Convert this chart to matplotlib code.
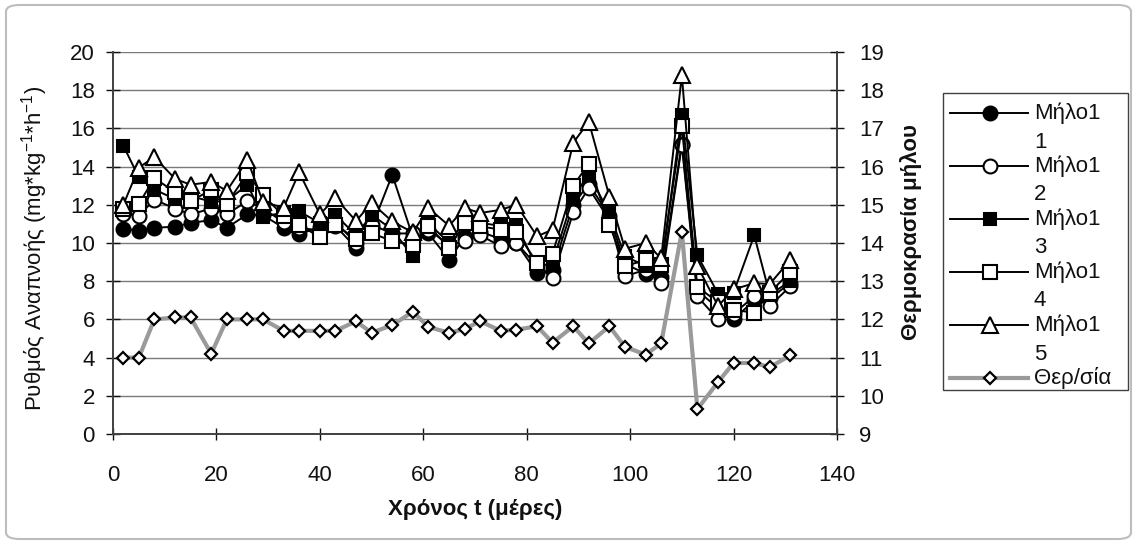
import matplotlib
matplotlib.use("Agg")
import matplotlib.pyplot as plt
from matplotlib.lines import Line2D
from matplotlib.patches import FancyBboxPatch, Rectangle

# ---- data -------------------------------------------------------------
days = [2, 5, 8, 12, 15, 19, 22, 26, 29, 33, 36, 40, 43, 47, 50, 54, 58, 61, 65,
        68, 71, 75, 78, 82, 85, 89, 92, 96, 99, 103, 106, 110, 113, 117, 120,
        124, 127, 131]

apple11 = [10.75, 10.65, 10.8, 10.85, 11.05, 11.2, 10.8, 11.5, 11.45, 10.8,
           10.45, 10.85, 10.9, 9.75, 10.8, 13.57, 10.3, 10.5, 9.13, 10.3, 10.6,
           10.2, 10.0, 8.43, 8.6, 12.0, 13.1, 11.4, 8.9, 8.4, 8.2, 15.2, 7.5,
           6.6, 6.0, 7.0, 7.1, 7.9]
apple12 = [11.5, 11.43, 12.27, 11.8, 11.5, 11.8, 11.5, 12.2, 11.8, 11.1,
           10.8, 10.65, 11.1, 10.0, 10.96, 10.5, 10.5, 10.7, 9.9, 10.09, 10.4,
           9.83, 10.0, 8.8, 8.17, 11.6, 12.87, 11.2, 8.26, 8.6, 7.9, 15.13, 7.2,
           6.0, 6.3, 7.2, 6.7, 7.74]
apple13 = [15.1, 13.43, 12.8, 12.3, 12.45, 12.17, 12.2, 13.05, 11.37, 11.6,
           11.65, 11.05, 11.48, 10.4, 11.48, 10.7, 9.3, 11.04, 10.0, 11.2, 11.05,
           10.9, 10.96, 8.7, 9.0, 12.4, 13.57, 11.57, 9.3, 8.8, 8.6, 16.7, 9.35,
           7.35, 7.4, 10.4, 7.3, 8.0]
apple14 = [11.8, 12.05, 13.4, 12.66, 12.2, 12.77, 12.05, 13.65, 12.5, 11.42,
           10.96, 10.3, 10.96, 10.2, 10.52, 10.1, 9.9, 10.9, 9.74, 11.04, 10.87,
           10.7, 10.6, 8.96, 9.45, 13.0, 14.15, 10.96, 8.8, 9.1, 8.87, 16.1, 7.7,
           6.9, 6.5, 6.35, 7.4, 8.5]
apple15 = [12.0, 13.95, 14.5, 13.36, 13.05, 13.2, 12.73, 14.35, 12.15, 11.85,
           13.7, 11.5, 12.35, 11.15, 12.1, 11.13, 10.55, 11.83, 10.9, 11.83, 11.57,
           11.74, 12.0, 10.35, 10.7, 15.25, 16.35, 12.43, 9.7, 10.0, 9.2, 18.78,
           8.8, 6.7, 7.57, 7.9, 7.85, 9.13]
temperature = [11.0, 11.0, 12.0, 12.05, 12.05, 11.1, 12.0, 12.0, 12.0, 11.7,
               11.7, 11.7, 11.7, 11.95, 11.65, 11.85, 12.2, 11.8, 11.65, 11.75,
               11.95, 11.7, 11.73, 11.82, 11.39, 11.82, 11.37, 11.82, 11.28, 11.08,
               11.37, 14.3, 9.65, 10.36, 10.86, 10.86, 10.75, 11.06]

series_names = ["Μήλο11", "Μήλο12", "Μήλο13", "Μήλο14", "Μήλο15"]
temp_name = "Θερ/σία"

x_ticks = [0, 20, 40, 60, 80, 100, 120, 140]
left_ticks = [0, 2, 4, 6, 8, 10, 12, 14, 16, 18, 20]
right_ticks = [9, 10, 11, 12, 13, 14, 15, 16, 17, 18, 19]

# ---- styling ----------------------------------------------------------
plt.rcParams['font.family'] = ['Liberation Sans', 'DejaVu Sans']
plt.rcParams['mathtext.fontset'] = 'custom'
plt.rcParams['mathtext.rm'] = 'Liberation Sans'

W, H = 1137, 544
FS = 16
TXT = '#111111'
fig = plt.figure(figsize=(W / 100, H / 100), dpi=100)


def fx(px):
    return px / W


def fy(py):
    return 1 - py / H


# outer chart frame with rounded corners
fig.add_artist(FancyBboxPatch((fx(6), fy(539)), fx(1131) - fx(6), fy(5) - fy(539),
                              boxstyle="round,pad=0,rounding_size=0.012",
                              transform=fig.transFigure, fill=False,
                              edgecolor="#bdbdbd", lw=1.5))

L, R, T, B = 113, 837, 52, 434
ax = fig.add_axes([fx(L), fy(B), fx(R) - fx(L), fy(T) - fy(B)])
ax2 = ax.twinx()

styles = [
    dict(marker='o', mfc='black', mec='black', ms=10, mew=1.5),
    dict(marker='o', mfc='white', mec='black', ms=10, mew=1.5),
    dict(marker='s', mfc='black', mec='black', ms=9, mew=1.5),
    dict(marker='s', mfc='white', mec='black', ms=10, mew=1.5),
    dict(marker='^', mfc='white', mec='black', ms=11, mew=1.5),
]
temp_style = dict(marker='D', mfc='white', mec='black', ms=6, mew=1.6)

for vals, st in zip([apple11, apple12, apple13, apple14, apple15], styles):
    ax.plot(days, vals, color='black', lw=1.4, **st, zorder=3)

ax2.plot(days, temperature, color='#9a9a9a', lw=3, **temp_style, zorder=3)

ax.set_xlim(0, 140)
ax.set_ylim(0, 20)
ax2.set_ylim(9, 19)
ax.set_xticks(x_ticks)
ax.set_yticks(left_ticks)
ax2.set_yticks(right_ticks)

ax.yaxis.grid(True, color='#7a7a7a', lw=1.0)
ax.set_axisbelow(True)

for a in (ax, ax2):
    a.spines['top'].set_visible(False)
    for s in ('left', 'right', 'bottom'):
        a.spines[s].set_color('#404040')
        a.spines[s].set_linewidth(1.2)

ax.tick_params(axis='y', direction='inout', length=10, width=1, pad=8,
               labelsize=FS, colors=TXT)
ax.tick_params(axis='x', direction='inout', length=8, width=1, pad=18,
               labelsize=FS, colors=TXT)
ax2.tick_params(axis='y', direction='inout', length=10, width=1, pad=11,
                labelsize=FS, colors=TXT)

fig.text(fx(35), fy(248),
         r'Ρυθμός Αναπνοής (mg*kg$^{\mathregular{-1}}$*h$^{\mathregular{-1}}$)',
         rotation=90, ha='center', va='center', fontsize=FS, color=TXT)
fig.text(fx(911), fy(232), 'Θερμοκρασία μήλου', rotation=90, ha='center',
         va='center', fontsize=FS, fontweight='bold', color=TXT)
fig.text(fx(475), fy(510), 'Χρόνος t (μέρες)', ha='center', va='center',
         fontsize=FS, fontweight='bold', color=TXT)

# ---- legend -----------------------------------------------------------
fig.add_artist(Rectangle((fx(943), fy(390)), fx(1128) - fx(943), fy(93) - fy(390),
                         transform=fig.transFigure, fill=False,
                         edgecolor='#404040', lw=1.0))

entry_y = [113, 166, 219, 272, 325, 378]
for i, (name, st) in enumerate(zip(series_names, styles)):
    y = entry_y[i]
    fig.add_artist(Line2D([fx(950), fx(1028)], [fy(y), fy(y)],
                          transform=fig.transFigure, color='black', lw=1.4))
    fig.add_artist(Line2D([fx(990)], [fy(y)], transform=fig.transFigure,
                          linestyle='none', **st))
    fig.text(fx(1034), fy(y), name[:-1], ha='left', va='center', fontsize=FS,
             color=TXT)
    fig.text(fx(1034), fy(y + 29), name[-1], ha='left', va='center',
             fontsize=FS, color=TXT)

y = entry_y[5]
fig.add_artist(Line2D([fx(950), fx(1028)], [fy(y), fy(y)],
                      transform=fig.transFigure, color='#9a9a9a', lw=3))
fig.add_artist(Line2D([fx(990)], [fy(y)], transform=fig.transFigure,
                      linestyle='none', **temp_style))
fig.text(fx(1034), fy(y), temp_name, ha='left', va='center', fontsize=FS,
         color=TXT)

fig.savefig('out.png', dpi=100)
